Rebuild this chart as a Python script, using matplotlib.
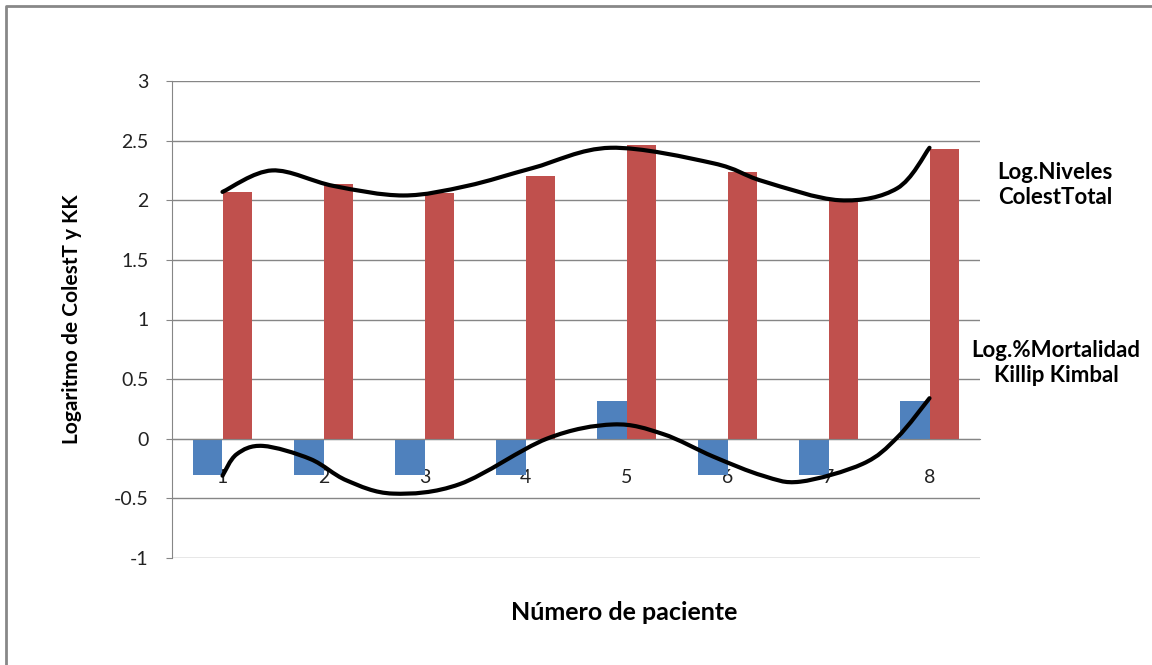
import matplotlib
matplotlib.use("Agg")
import matplotlib.pyplot as plt
import numpy as np
from matplotlib.path import Path
from matplotlib.patches import PathPatch
from matplotlib.lines import Line2D

pacientes = [1, 2, 3, 4, 5, 6, 7, 8]
log_mortalidad_kk = [-0.30, -0.30, -0.30, -0.30, 0.32, -0.30, -0.30, 0.32]
log_colesterol = [2.07, 2.14, 2.06, 2.20, 2.46, 2.24, 2.01, 2.43]

# freehand trend strokes drawn over the bars (patient number, log value)
trazo_colest_x = [1.0, 1.49, 2.10, 2.79, 3.42, 4.07, 4.84, 5.86, 6.35, 7.11, 7.68, 8.0]
trazo_colest_y = [2.07, 2.25, 2.12, 2.04, 2.12, 2.27, 2.44, 2.31, 2.16, 2.00, 2.10, 2.44]
trazo_kk_x = [1.0, 1.14, 1.40, 1.87, 2.23, 2.69, 3.35, 4.21, 4.87, 5.36, 5.86, 6.35, 6.72, 7.34, 7.68, 8.0]
trazo_kk_y = [-0.31, -0.13, -0.06, -0.17, -0.35, -0.46, -0.38, 0.0, 0.12, 0.04, -0.15, -0.31, -0.36, -0.21, 0.01, 0.34]

azul = "#4F81BD"
rojo = "#C0504D"
gris = "#868686"


def trazo_suave(xs, ys):
    # Catmull-Rom through the points, turned into cubic Bezier segments
    p = np.column_stack([xs, ys])
    p = np.vstack([p[0], p, p[-1]])
    verts = [p[1]]
    codes = [Path.MOVETO]
    for i in range(1, len(p) - 2):
        c1 = p[i] + (p[i + 1] - p[i - 1]) / 6.0
        c2 = p[i + 1] - (p[i + 2] - p[i]) / 6.0
        verts += [c1, c2, p[i + 1]]
        codes += [Path.CURVE4] * 3
    return Path(verts, codes)


plt.rcParams["font.family"] = ["Lato", "DejaVu Sans"]

fig = plt.figure(figsize=(11.52, 6.65), dpi=100)
ax = fig.add_axes([172 / 1152, 1 - 558 / 665, 808 / 1152, 477 / 665])

x = np.array(pacientes)
ancho = 0.29
ax.bar(x - ancho / 2, log_mortalidad_kk, width=ancho, color=azul, zorder=2)
ax.bar(x + ancho / 2, log_colesterol, width=ancho, color=rojo, zorder=2)

for xs, ys in [(trazo_colest_x, trazo_colest_y), (trazo_kk_x, trazo_kk_y)]:
    ax.add_patch(PathPatch(trazo_suave(xs, ys), facecolor="none", edgecolor="black",
                           lw=3.0, capstyle="round", joinstyle="round", zorder=3))

ax.set_xlim(0.5, 8.5)
ax.set_ylim(-1, 3)
ax.set_yticks(np.arange(-1, 3.01, 0.5))
ax.set_yticklabels(["-1", "-0.5", "0", "0.5", "1", "1.5", "2", "2.5", "3"])
ax.yaxis.grid(True, color=gris, lw=1)
ax.set_axisbelow(True)

for s in ["top", "right"]:
    ax.spines[s].set_visible(False)
ax.spines["left"].set_color(gris)
ax.spines["bottom"].set_color(gris)
ax.spines["bottom"].set_position(("data", 0))

ax.set_xticks(pacientes)
ax.tick_params(axis="x", length=0, pad=22, labelsize=14, labelcolor="#222222")
ax.tick_params(axis="y", length=4, color=gris, pad=13, labelsize=14, labelcolor="#222222")

ax.set_ylabel("Logaritmo de ColestT y KK", fontsize=15, fontweight="bold")
ax.yaxis.set_label_coords(-0.111, 0.5)
fig.text(624 / 1152, 1 - 612 / 665, "Número de paciente", fontsize=18, fontweight="bold",
         ha="center", va="center")

fig.text(1055 / 1152, 1 - 185 / 665, "Log.Niveles\nColestTotal", fontsize=16,
         fontweight="bold", ha="center", va="center", linespacing=1.2)
fig.text(1056 / 1152, 1 - 363 / 665, "Log.%Mortalidad\nKillip Kimbal", fontsize=16,
         fontweight="bold", ha="center", va="center", linespacing=1.2)

# chart frame
fy = 1 - 6 / 665
fx = 6 / 1152
fig.add_artist(Line2D([fx, fx, 1], [0, fy, fy], transform=fig.transFigure,
                      color="#888888", lw=2))

fig.savefig("out.png", dpi=100)
